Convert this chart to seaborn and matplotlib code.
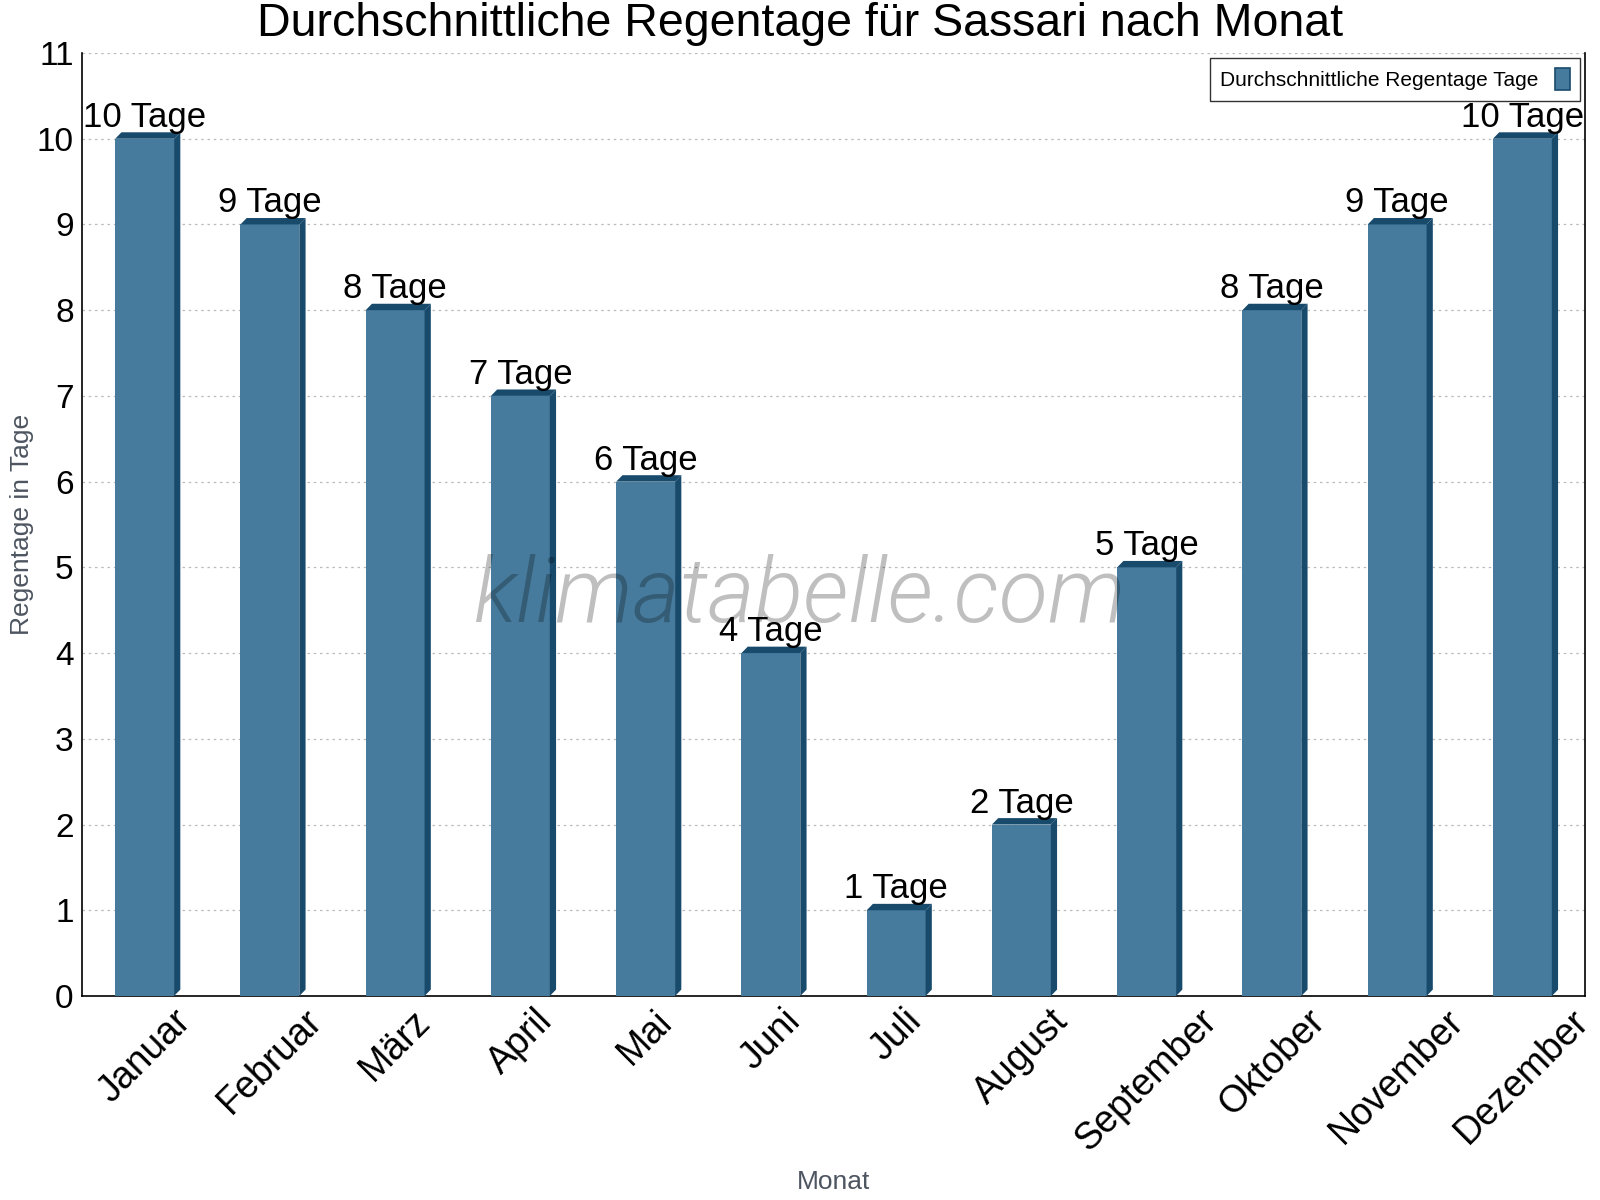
import matplotlib
matplotlib.use("Agg")
import matplotlib.pyplot as plt
from matplotlib.patches import Polygon
from matplotlib.ticker import FixedLocator
import seaborn as sns
import pandas as pd

# Daten
monate = ["Januar", "Februar", "März", "April", "Mai", "Juni",
          "Juli", "August", "September", "Oktober", "November", "Dezember"]
regentage = [10, 9, 8, 7, 6, 4, 1, 2, 5, 8, 9, 10]
serie = "Durchschnittliche Regentage Tage"

df = pd.DataFrame({"Monat": monate, "Tage": regentage})

front = "#467b9d"
dunkel = "#184a6c"

sns.set_theme(style="white")
plt.rcParams["font.family"] = ["Liberation Sans", "DejaVu Sans"]
plt.rcParams["text.color"] = "black"
plt.rcParams["xtick.color"] = "black"
plt.rcParams["ytick.color"] = "black"

fig = plt.figure(figsize=(16, 12), dpi=100)
ax = fig.add_axes([82 / 1600, 1 - 996 / 1200, (1585 - 82) / 1600, (996 - 53) / 1200])

sns.barplot(data=df, x="Monat", y="Tage", color=front, width=0.47,
            saturation=1, ax=ax, zorder=3, label=serie)

# 3D-Effekt: Seite und Deckel
dx, dy = 0.05, 0.075
for p in ax.patches:
    x0 = p.get_x()
    x1 = x0 + p.get_width()
    h = p.get_height()
    p.set_edgecolor("none")
    top = Polygon([(x0, h), (x0 + dx, h + dy), (x1 + dx, h + dy), (x1, h)],
                  closed=True, facecolor=dunkel, edgecolor="none", zorder=3)
    side = Polygon([(x1, 0), (x1, h), (x1 + dx, h + dy), (x1 + dx, dy)],
                   closed=True, facecolor=dunkel, edgecolor="none", zorder=3)
    ax.add_patch(top)
    ax.add_patch(side)
    ax.text(p.get_x() + p.get_width() / 2, h + 0.14, f"{int(h)} Tage",
            ha="center", va="baseline", fontsize=25, color="black", zorder=5)

ax.set_xlim(-0.5, 11.5)
ax.set_ylim(0, 11)
ax.set_yticks(range(0, 12))
ax.yaxis.grid(True, linestyle=(0, (2, 3)), color="#bbbbbb", linewidth=0.9, zorder=0)
ax.xaxis.grid(False)

ax.xaxis.set_minor_locator(FixedLocator([i - 0.5 for i in range(13)]))
ax.tick_params(axis="x", which="major", length=0, labelsize=27, pad=5)
ax.tick_params(axis="x", which="minor", length=8, direction="inout", width=1, color="black")
ax.tick_params(axis="y", which="major", length=8, direction="inout", width=1,
               color="black", labelsize=24, pad=2)
for lbl in ax.get_xticklabels():
    lbl.set_rotation(45)
    lbl.set_ha("center")
    lbl.set_va("top")

for side_name in ["left", "bottom", "right"]:
    ax.spines[side_name].set_visible(True)
    ax.spines[side_name].set_color("black")
    ax.spines[side_name].set_linewidth(1.2)
ax.spines["top"].set_visible(False)

ax.set_xlabel("Monat", fontsize=19, color="#4d5560")
ax.xaxis.set_label_coords(0.5, -(1170 - 996) / 943)
ax.set_ylabel("Regentage in Tage", fontsize=19, color="#4d5560")
ax.yaxis.set_label_coords(-(82 - 34) / 1503, 0.5)

fig.suptitle("Durchschnittliche Regentage für Sassari nach Monat",
             fontsize=33.5, y=1 - 24 / 1200, va="center")

leg = ax.legend(loc="upper right", bbox_to_anchor=(1 - 5 / 1503, 1 - 5 / 943),
                borderaxespad=0, fontsize=15,
                markerfirst=False, frameon=True, fancybox=False, handlelength=0.7,
                handleheight=1.2, borderpad=0.5)
leg.get_frame().set_edgecolor("black")
leg.get_frame().set_linewidth(1.0)
for h in leg.legend_handles:
    h.set_edgecolor(dunkel)
    h.set_linewidth(1.2)

fig.text(0.5, 1 - 597 / 1200, "klimatabelle.com", fontsize=65, style="italic",
         fontweight=300, family=["Roboto", "Liberation Sans", "DejaVu Sans"],
         color="black", alpha=0.25, ha="center", va="center", zorder=10)

fig.savefig("out.png", dpi=100)
